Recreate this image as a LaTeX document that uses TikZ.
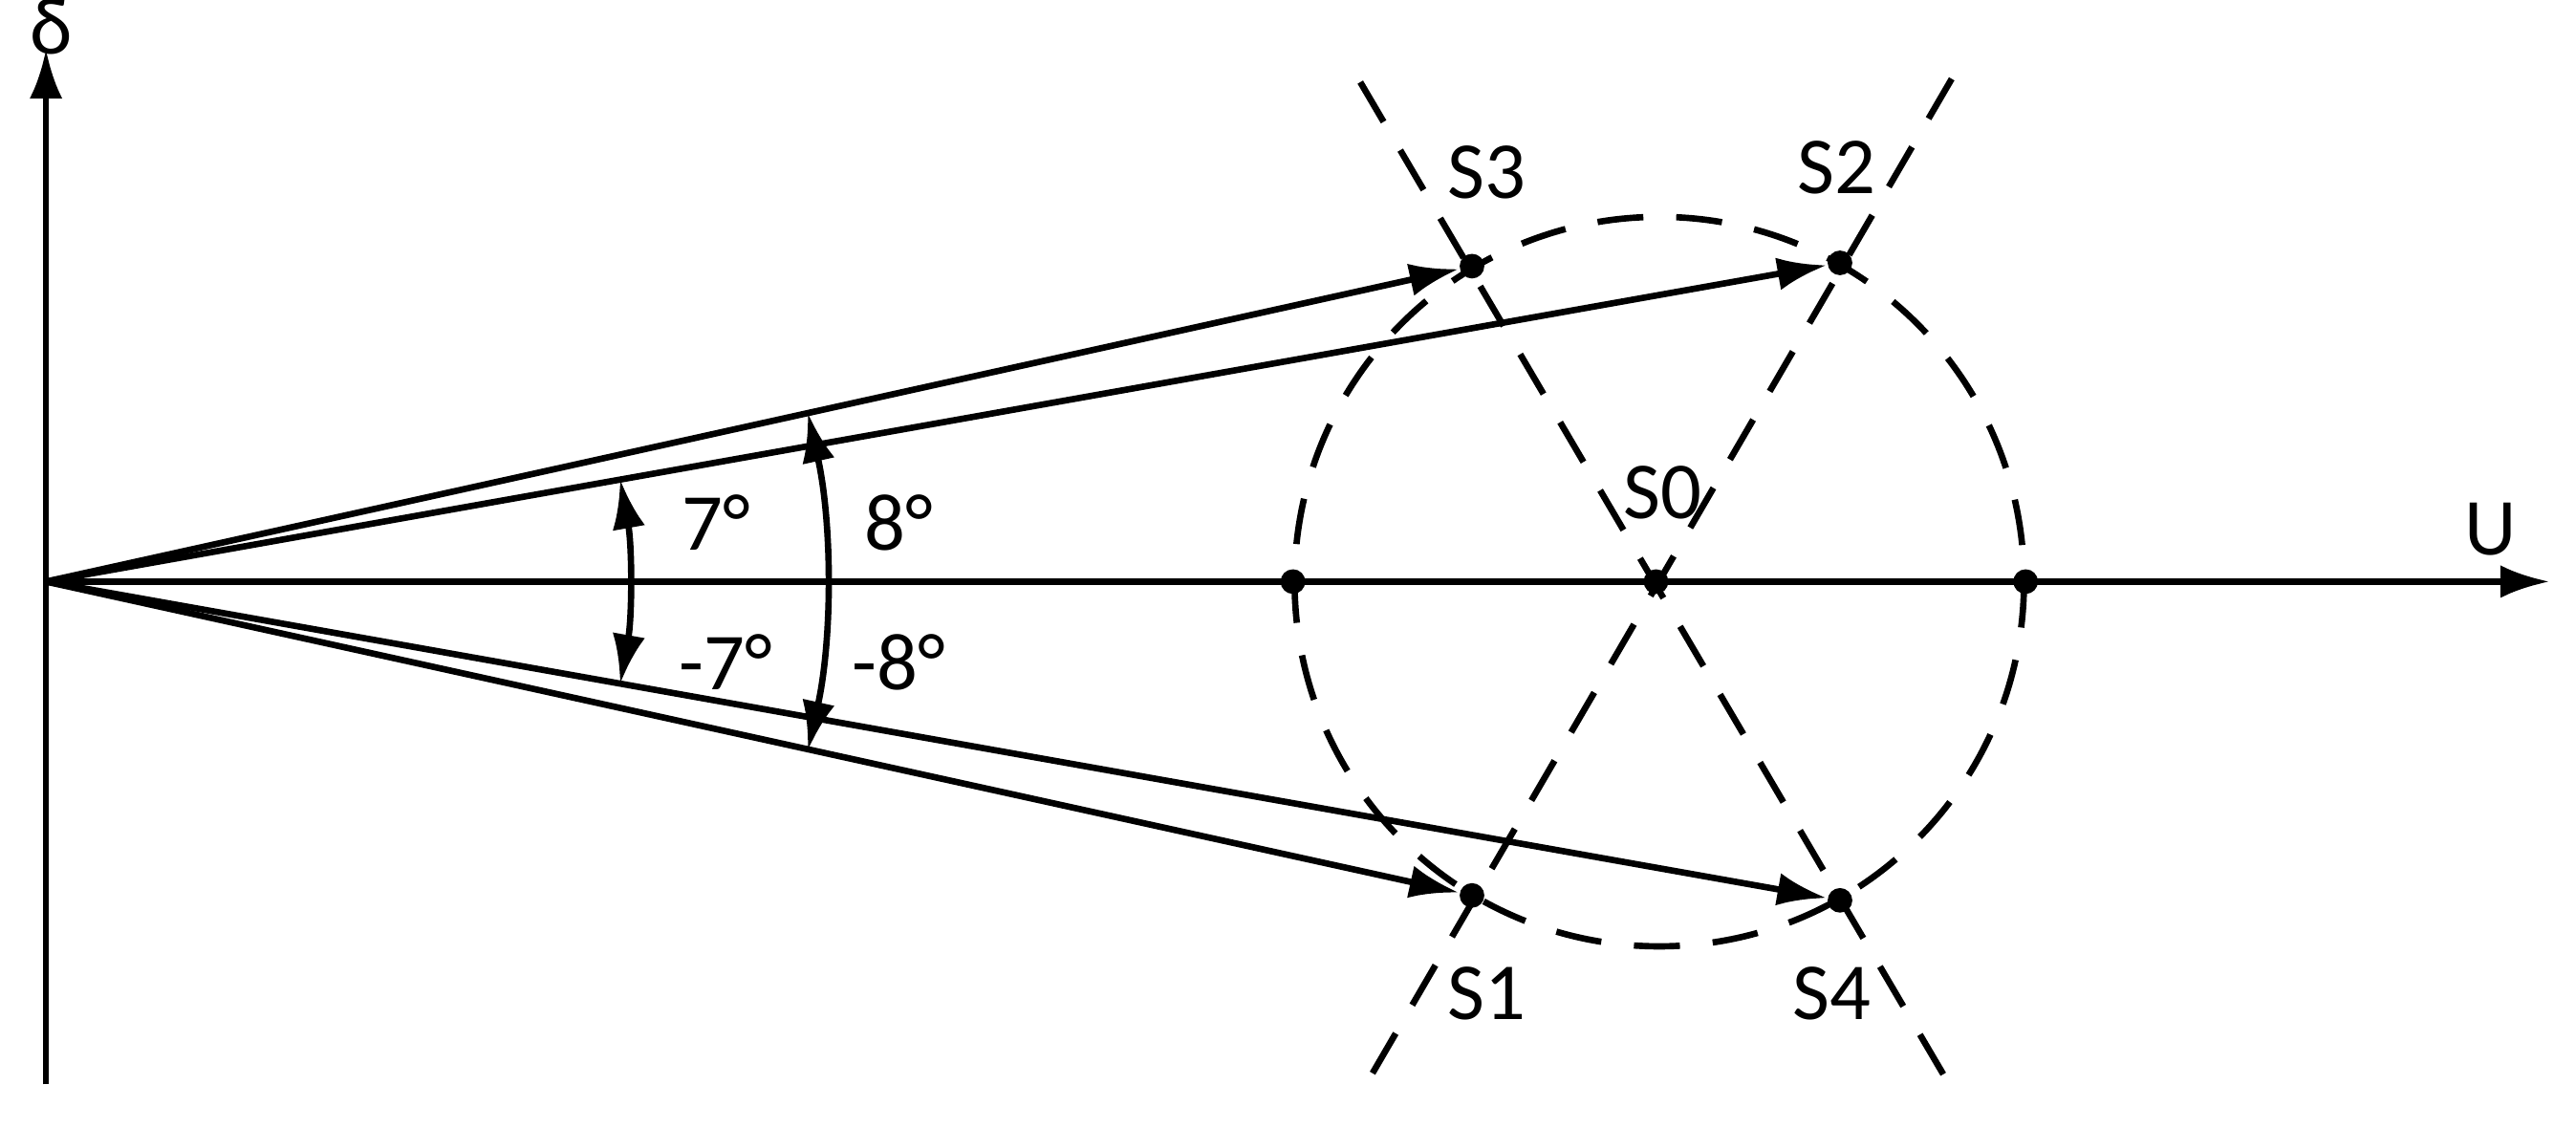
\documentclass[tikz,border=0pt]{standalone}
\usepackage{fontspec}
\setmainfont{Carlito}
\usetikzlibrary{arrows.meta,calc}
\begin{document}
\begin{tikzpicture}[x=0.01cm,y=-0.01cm,
  tip/.style={-{Latex[length=0.3cm,width=0.2cm]}},
  dtip/.style={{Latex[length=0.3cm,width=0.2cm]}-{Latex[length=0.3cm,width=0.2cm]}},
  ln/.style={line width=1.1pt},
  dsh/.style={line width=1.1pt,dash pattern=on 0.28cm off 0.2cm},
  dot/.style={circle,fill,inner sep=0pt,minimum size=0.15cm},
  lbl/.style={font=\fontsize{14pt}{16pt}\selectfont,inner sep=0pt}]
\useasboundingbox (0,0) rectangle (1568,686);
\coordinate (O) at (28,354);
\coordinate (Ybot) at (28,660);
\coordinate (Ytop) at (28,30);
\coordinate (Uend) at (1552,354);
\draw[ln,tip] (Ybot) -- (Ytop);
\draw[ln,tip] (O) -- (Uend);
\node[lbl] (delta) at (31,16) {δ};
\node[lbl] (U) at (1516,322) {U};
% circle
\coordinate (C) at (1010,354);
\draw[dsh] (C) circle (222);
\coordinate (A1) at (828,50); \coordinate (A2) at (1190,666);
\coordinate (B1) at (1188,48); \coordinate (B2) at (828,666);
\draw[dsh] (A1) -- (A2);
\draw[dsh] (B1) -- (B2);
\node[dot] (S0) at (1008,354) {};
\node[dot] (L) at (787,354) {};
\node[dot] (R) at (1233,354) {};
\node[dot] (S3) at (896,162) {};
\node[dot] (S2) at (1120,160) {};
\node[dot] (S1) at (896,545) {};
\node[dot] (S4) at (1120,548) {};
\draw[ln,tip] (O) -- (S3);
\draw[ln,tip] (O) -- (S2);
\draw[ln,tip] (O) -- (S1);
\draw[ln,tip] (O) -- (S4);
\draw[ln,dtip] ($(O)+(-10.1:355)$) arc[start angle=-10.1,end angle=10.1,radius=355];
\draw[ln,dtip] ($(O)+(-12.5:475)$) arc[start angle=-12.5,end angle=12.5,radius=475];
\node[lbl] (a7) at (436,318) {7°};
\node[lbl] (a8) at (547,318) {8°};
\node[lbl] (m7) at (442,403) {-7°};
\node[lbl] (m8) at (547,403) {-8°};
\node[lbl] (tS3) at (905,105) {S3};
\node[lbl] (tS2) at (1118,102) {S2};
\node[lbl] (tS0) at (1012,300) {S0};
\node[lbl] (tS1) at (905,605) {S1};
\node[lbl] (tS4) at (1115,605) {S4};
\end{tikzpicture}
\end{document}
